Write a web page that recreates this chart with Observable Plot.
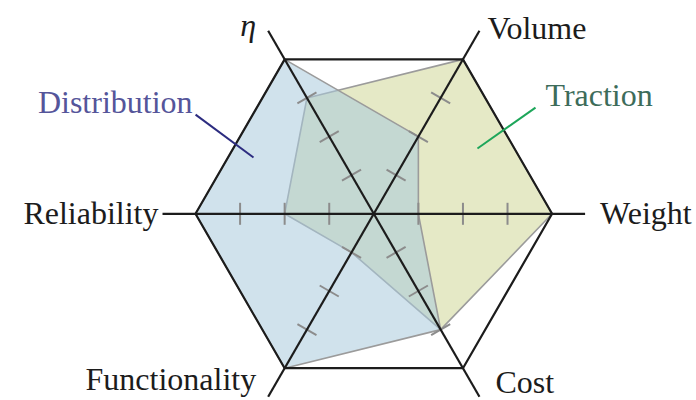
<!DOCTYPE html>
<html>
<head>
<meta charset="utf-8">
<script src="https://cdn.jsdelivr.net/npm/d3@7"></script>
<script src="https://cdn.jsdelivr.net/npm/@observablehq/plot@0.6"></script>
<style>
  body { margin: 0; background: #fff; }
</style>
</head>
<body>
<div id="chart"></div>
<script>
// Criteria around the hexagon, counter-clockwise angle of each spoke (degrees)
const criteria = ["η", "Volume", "Weight", "Cost", "Functionality", "Reliability"];
const angles = [120, 60, 0, -60, -120, 180];

// Normalised scores (0 = centre, 1 = hexagon vertex)
const distribution = [1, 0.5, 0.25, 0.75, 1, 1];
const traction = [0.75, 1, 1, 0.75, 0.25, 0.5];

// Tick levels marked on every spoke
const levels = [0.25, 0.5, 0.75];

const seriesNames = ["Distribution", "Traction"];

// ---- geometry helpers ----
const W = 696, H = 400;
const unit = 178.3;              // pixels per unit radius
const ox = 373.3, oy = 213.3;    // centre of the hexagon in the frame
const rad = a => a * Math.PI / 180;
const polar = (a, r) => ({x: r * Math.cos(rad(a)), y: r * Math.sin(rad(a))});

const spokeEnd = 1.185;
const tickHalf = 11 / unit;

const polygon = values => values.map((v, i) => ({criterion: criteria[i], ...polar(angles[i], v)}));
const distPts = polygon(distribution);
const tracPts = polygon(traction);
const hexPts = angles.map(a => polar(a, 1));
const spokes = angles.map(a => {
  const e = polar(a, spokeEnd);
  return {x1: 0, y1: 0, x2: e.x, y2: e.y};
});

const ticks = [];
for (const a of angles) {
  for (const l of levels) {
    const p = polar(a, l);
    const nx = -Math.sin(rad(a)) * tickHalf, ny = Math.cos(rad(a)) * tickHalf;
    ticks.push({x1: p.x - nx, y1: p.y - ny, x2: p.x + nx, y2: p.y + ny});
  }
}

// Spoke labels: anchored at spoke ends, nudged clear of the lines
const labelPlacement = {
  "η":            {anchor: "end",   dx: -12, dy: -5},
  "Volume":       {anchor: "start", dx: 8,   dy: -2},
  "Weight":       {anchor: "start", dx: 15,  dy: 0},
  "Cost":         {anchor: "start", dx: 16,  dy: -14},
  "Functionality":{anchor: "end",   dx: -12, dy: -17},
  "Reliability":  {anchor: "end",   dx: -4,  dy: 0}
};
const spokeLabels = criteria.map((c, i) => ({label: c, ...polar(angles[i], spokeEnd), ...labelPlacement[c]}));

// Series call-outs: leader from inside the area out to the name
const callouts = [
  {name: seriesNames[0], inner: polar(154.9, 0.745), outer: polar(150.9, 1.144), anchor: "end", dx: -3, dy: -12, text: "#55559a", line: "#2c2c80"},
  {name: seriesNames[1], inner: polar(32.2, 0.687), outer: polar(33.3, 1.085), anchor: "start", dx: 10, dy: -12, text: "#3d6c5a", line: "#1da65a"}
];

const font = "Liberation Serif";
const ink = "#1c1c1c";

const chart = Plot.plot({
  width: W,
  height: H,
  margin: 0,
  x: {domain: [-ox / unit, (W - ox) / unit], axis: null},
  y: {domain: [-(H - oy) / unit, oy / unit], axis: null},
  marks: [
    Plot.line(tracPts, {x: "x", y: "y", curve: "linear-closed", fill: "#e5e9c6", stroke: "#9b9b9b", strokeWidth: 1.6}),
    Plot.line(distPts, {x: "x", y: "y", curve: "linear-closed", fill: "#a9cadd", fillOpacity: 0.55, stroke: "#9b9b9b", strokeWidth: 1.6}),
    Plot.line(hexPts, {x: "x", y: "y", curve: "linear-closed", stroke: ink, strokeWidth: 2.2}),
    Plot.link(ticks, {x1: "x1", y1: "y1", x2: "x2", y2: "y2", stroke: "#8c8c8c", strokeWidth: 2}),
    Plot.link(spokes, {x1: "x1", y1: "y1", x2: "x2", y2: "y2", stroke: ink, strokeWidth: 2.2}),
    ...spokeLabels.map(d => Plot.text([d], {
      x: "x", y: "y", text: "label", textAnchor: d.anchor, dx: d.dx, dy: d.dy,
      fontSize: 32, fontFamily: font, fill: ink, fontStyle: d.label === "η" ? "italic" : "normal"
    })),
    ...callouts.map(d => Plot.link([d], {
      x1: c => c.inner.x, y1: c => c.inner.y, x2: c => c.outer.x, y2: c => c.outer.y,
      stroke: d.line, strokeWidth: 2
    })),
    ...callouts.map(d => Plot.text([d], {
      x: c => c.outer.x, y: c => c.outer.y, text: "name", textAnchor: d.anchor, dx: d.dx, dy: d.dy,
      fontSize: 32, fontFamily: font, fill: d.text
    }))
  ]
});

document.getElementById("chart").appendChild(chart);
</script>
</body>
</html>
